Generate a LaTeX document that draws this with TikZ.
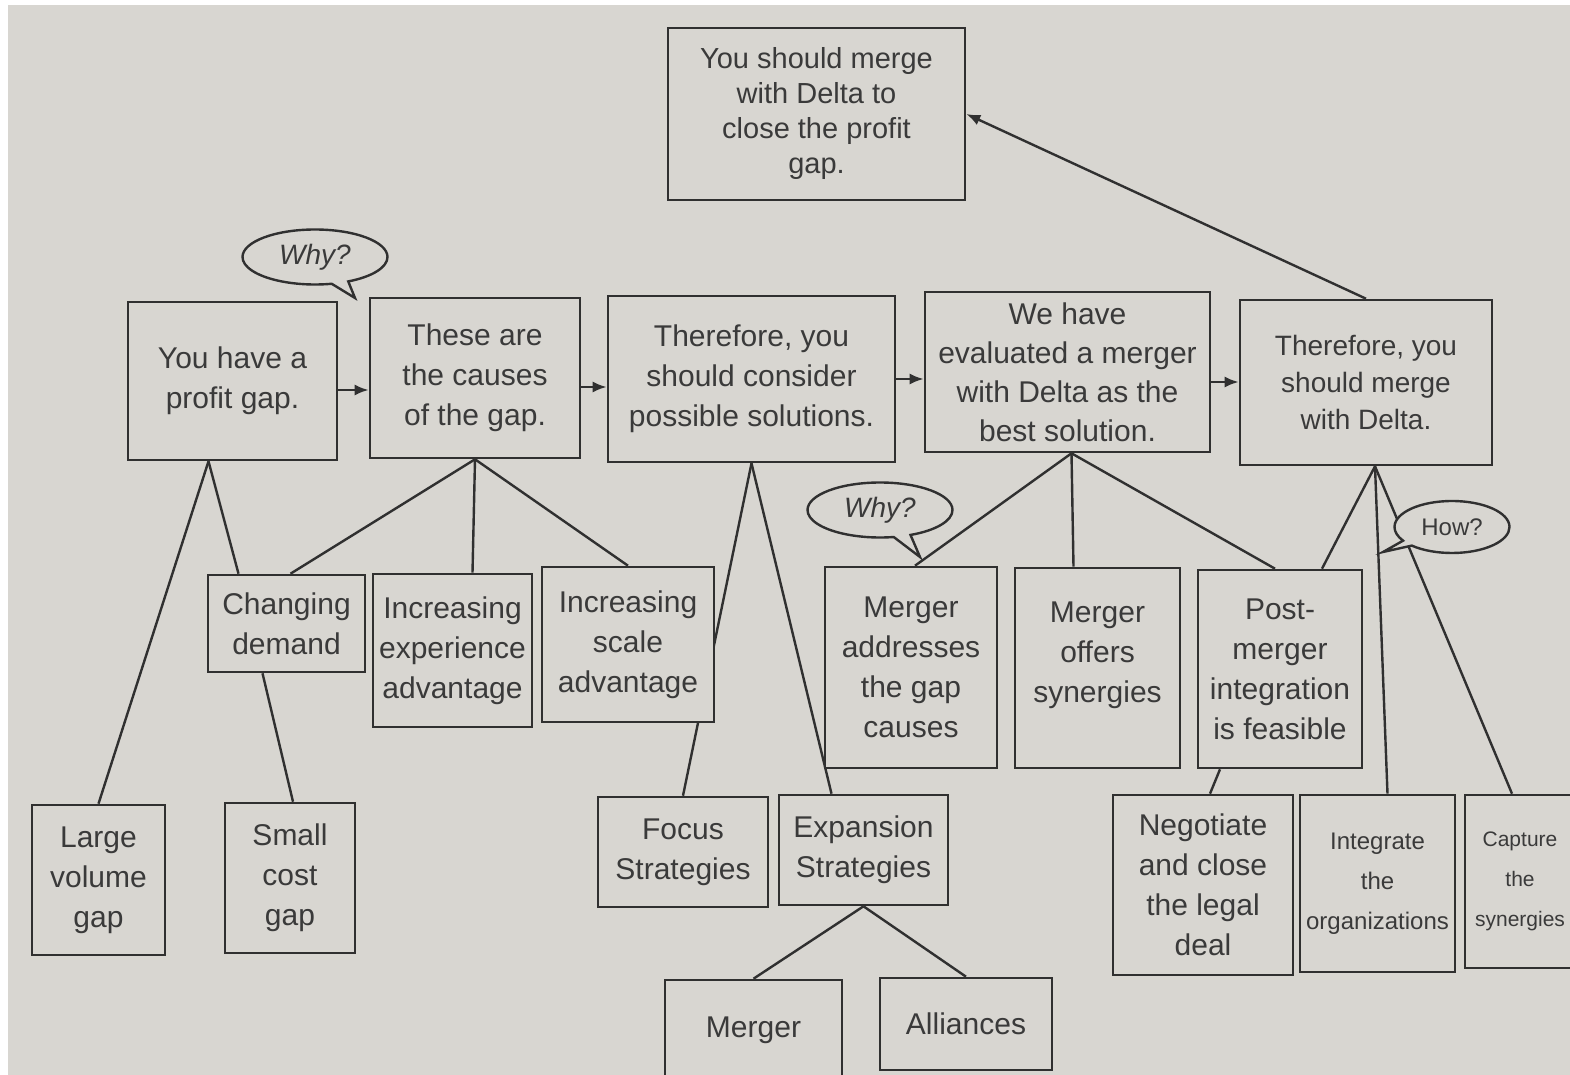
\documentclass[tikz,border=0pt]{standalone}
\usepackage{fontspec}
\setmainfont{Liberation Sans}
\usetikzlibrary{arrows.meta,shapes.callouts,shapes.geometric}
\definecolor{paper}{RGB}{216,214,209}
\definecolor{ink}{RGB}{48,48,48}
\definecolor{txt}{RGB}{58,58,58}
\pgfdeclarelayer{paperlayer}
\pgfdeclarelayer{linelayer}
\pgfsetlayers{paperlayer,linelayer,main}
\begin{document}
\begin{tikzpicture}[x=0.5pt,y=-0.5pt,
  box/.style={draw=ink, line width=1.3pt, fill=paper, align=center, inner sep=0pt, text=txt, font=\fontsize{15}{20}\selectfont},
  conn/.style={draw=ink, line width=1.2pt},
  arr/.style={conn, -{Latex[length=7pt,width=5.5pt]}},
  bubble/.style={ellipse callout, draw=ink, line width=1.2pt, fill=paper, text=txt, inner sep=0pt, callout pointer arc=14}]
\useasboundingbox (0,0) rectangle (1570,1075);
\begin{pgfonlayer}{paperlayer}
  \fill[white] (0,0) rectangle (1570,1075);
  \fill[paper] (8,5) rectangle (1570,1075);
\end{pgfonlayer}
\clip (0,0) rectangle (1570,1075);

% top
\node[box, font=\fontsize{14.5}{17.5}\selectfont, minimum width=148.5pt, minimum height=86pt] (top) at (816.5,114) {You should merge\\with Delta to\\close the profit\\gap.};

% row 2
\node[box, minimum width=104.5pt, minimum height=79pt] (A) at (232.5,381) {You have a\\profit gap.};
\node[box, minimum width=105pt, minimum height=80pt] (B) at (475,378) {These are\\the causes\\of the gap.};
\node[box, minimum width=143.5pt, minimum height=83pt] (C) at (751.5,379) {Therefore, you\\should consider\\possible solutions.};
\node[box, font=\fontsize{15}{19.5}\selectfont, minimum width=142.5pt, minimum height=80pt] (D) at (1067.5,372) {We have\\evaluated a merger\\with Delta as the\\best solution.};
\node[box, font=\fontsize{14}{18.5}\selectfont, minimum width=126pt, minimum height=82.5pt] (E) at (1366,382.5) {Therefore, you\\should merge\\with Delta.};

% row 3
\node[box, minimum width=78.5pt, minimum height=48.5pt] (CD) at (286.5,623.5) {Changing\\demand};
\node[box, minimum width=79.5pt, minimum height=76.5pt] (Ex) at (452.5,650.5) {Increasing\\experience\\advantage};
\node[box, minimum width=86pt, minimum height=77.5pt] (Sc) at (628,644.5) {Increasing\\scale\\advantage};
\node[box, minimum width=86pt, minimum height=100.5pt] (MA) at (911,667.5) {Merger\\addresses\\the gap\\causes};
\node[box, minimum width=82.5pt, minimum height=100pt] (MO) at (1097.5,668) {Merger\\offers\\synergies\\[-4pt]};
\node[box, minimum width=82pt, minimum height=99pt] (P) at (1280,669) {Post-\\merger\\integration\\is feasible};

% row 4
\node[box, minimum width=66.5pt, minimum height=75pt] (L) at (98.5,880) {Large\\volume\\gap};
\node[box, minimum width=65pt, minimum height=75pt] (S) at (290,878) {Small\\cost\\gap};
\node[box, minimum width=85pt, minimum height=55pt] (F) at (683,852) {Focus\\Strategies};
\node[box, minimum width=84.5pt, minimum height=55pt] (ES) at (863.5,850) {Expansion\\Strategies};
\node[box, minimum width=90pt, minimum height=90pt] (N) at (1203,885) {Negotiate\\and close\\the legal\\deal};
\node[box, font=\fontsize{12}{20}\selectfont, minimum width=77.5pt, minimum height=88.5pt] (I) at (1377.5,883.5) {Integrate\\the\\organizations};
\node[box, font=\fontsize{10.5}{20}\selectfont, minimum width=55pt, minimum height=86.5pt] (Ca) at (1520,881.5) {Capture\\the\\synergies};

% row 5
\node[box, minimum width=88.5pt, minimum height=50pt] (M) at (753.5,1030) {Merger};
\node[box, minimum width=86pt, minimum height=46pt] (Al) at (966,1024) {Alliances};

% callouts
\node[bubble, font=\fontsize{14}{16}\selectfont\itshape, minimum width=72.5pt, minimum height=27.5pt, callout absolute pointer={(355,298)}] (why1) at (315,257) {Why?};
\node[bubble, font=\fontsize{14}{16}\selectfont\itshape, minimum width=72.5pt, minimum height=27.5pt, callout absolute pointer={(920,557)}] (why2) at (880,510) {Why?};
\node[bubble, font=\fontsize{12}{14}\selectfont, minimum width=57.5pt, minimum height=26pt, callout absolute pointer={(1383,552)}] (how) at (1452,527) {How?};

\begin{pgfonlayer}{linelayer}
  \draw[conn] ([xshift=-12pt]A.south) -- (L.north);
  \draw[conn] ([xshift=-12pt]A.south) -- ([xshift=-24pt]CD.north);
  \draw[conn] ([xshift=-12pt]CD.south) -- ([xshift=1.5pt]S.north);
  \draw[conn] (B.south) -- ([xshift=2pt]CD.north);
  \draw[conn] (B.south) -- ([xshift=10pt]Ex.north);
  \draw[conn] (B.south) -- (Sc.north);
  \draw[conn] (C.south) -- (F.north);
  \draw[conn] (C.south) -- ([xshift=-16pt]ES.north);
  \draw[conn] (ES.south) -- (M.north);
  \draw[conn] (ES.south) -- (Al.north);
  \draw[conn] ([xshift=2pt]D.south) -- ([xshift=2pt]MA.north);
  \draw[conn] ([xshift=2pt]D.south) -- ([xshift=-12pt]MO.north);
  \draw[conn] ([xshift=2pt]D.south) -- ([xshift=-2.5pt]P.north);
  \draw[conn] ([xshift=-30pt]P.south) -- ([xshift=3.5pt]N.north);
  \draw[conn] ([xshift=4.5pt]E.south) -- ([xshift=21pt]P.north);
  \draw[conn] ([xshift=4.5pt]E.south) -- ([xshift=5pt]I.north);
  \draw[conn] ([xshift=4.5pt]E.south) -- ([xshift=-4pt]Ca.north);
  \draw[arr] (E.north) -- (top.east);
  \draw[arr] ([yshift=-4.5pt]A.east) -- ([yshift=-4.5pt]A.east -| B.west);
  \draw[arr] ([yshift=-4.5pt]B.east) -- ([yshift=-4.5pt]B.east -| C.west);
  \draw[arr] (C.east) -- (C.east -| D.west);
  \draw[arr] ([yshift=-5pt]D.east) -- ([yshift=-5pt]D.east -| E.west);
\end{pgfonlayer}
\end{tikzpicture}
\end{document}
